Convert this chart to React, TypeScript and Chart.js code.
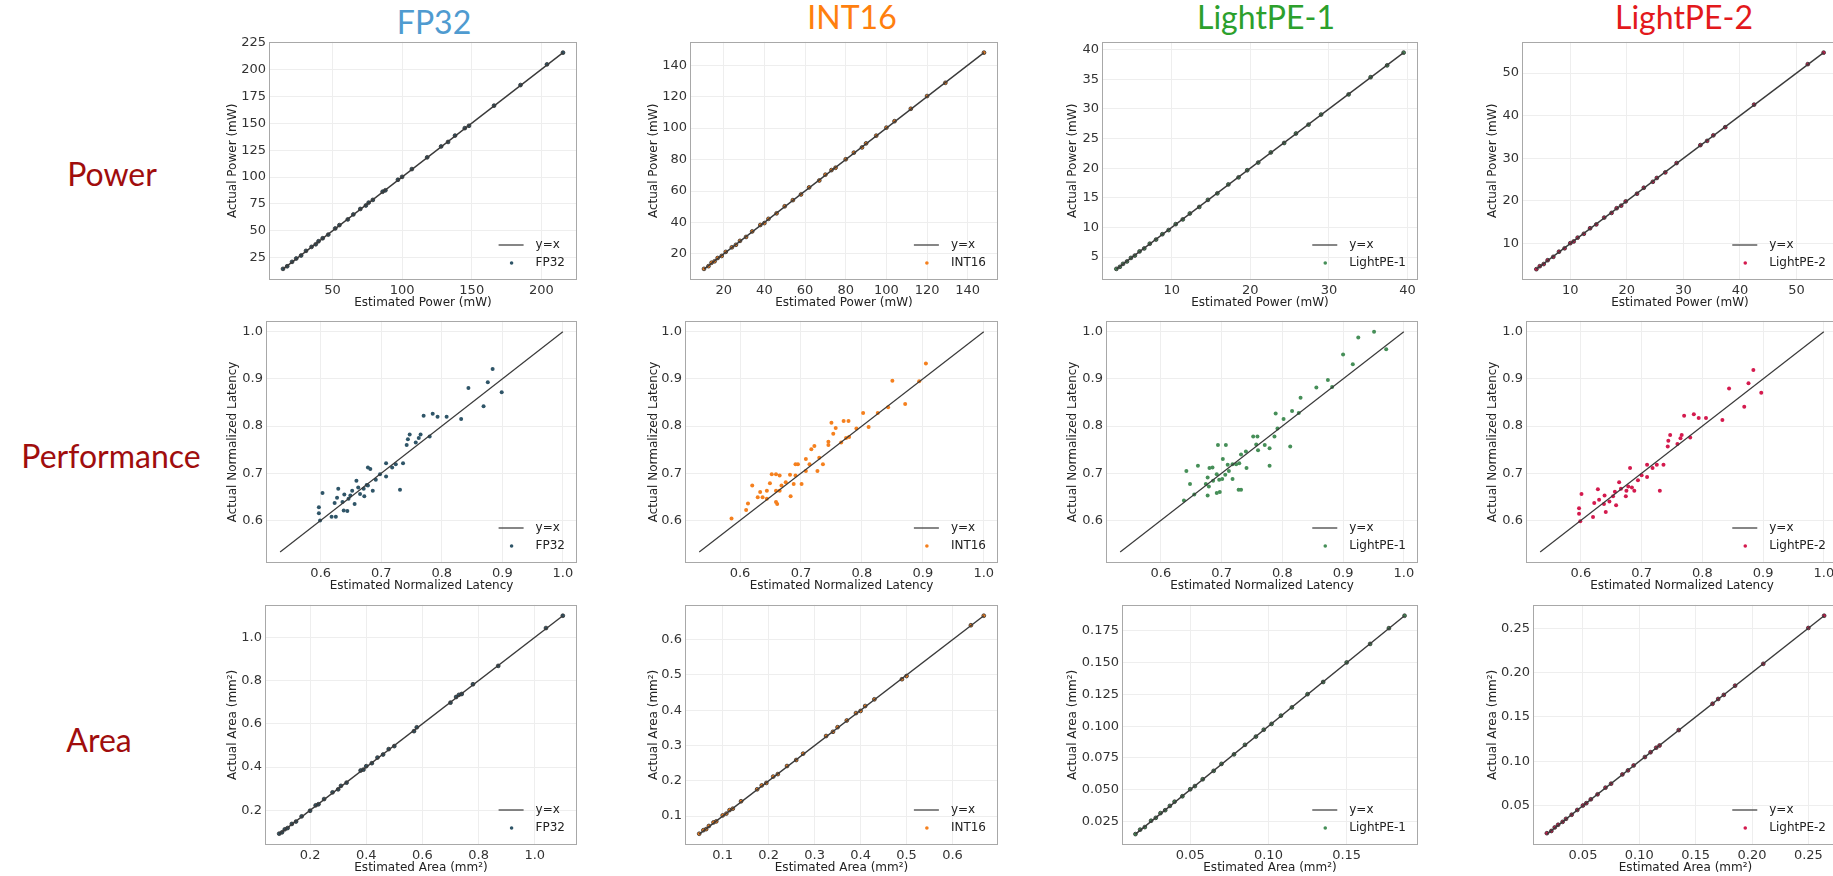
import React, { useEffect, useRef } from 'react';
import { Chart, registerables } from 'chart.js';
Chart.register(...registerables);

// ---------------- DATA ----------------
const columns = ['FP32', 'INT16', 'LightPE-1', 'LightPE-2'];
const rows = ['Power', 'Performance', 'Area'];

const xTitles = ['Estimated Power (mW)', 'Estimated Normalized Latency', 'Estimated Area (mm\u00B2)'];
const yTitles = ['Actual Power (mW)', 'Actual Normalized Latency', 'Actual Area (mm\u00B2)'];

// Power row
const fp32PowerEst = [14.5, 17.5, 21, 24, 27.5, 31, 35, 38, 40, 43, 47, 52, 55, 61, 65, 70, 74, 76, 79, 86, 88, 97, 100, 107, 118, 128, 133, 138, 145, 148, 166, 185, 204, 215.5];
const fp32PowerAct = [14.8, 17.2, 21.3, 24.4, 27.2, 31.5, 35.2, 37.6, 40.4, 43.2, 46.6, 52.3, 55.4, 60.7, 65.3, 70.4, 73.6, 76.3, 78.8, 86.4, 87.7, 97.5, 100.2, 107.4, 118.3, 128.4, 132.6, 138.5, 145.4, 147.6, 166.3, 185.4, 204.6, 215.5];
const fp32PowerLine = [14.5, 215.5];

const int16PowerEst = [10.3, 12.5, 14, 15.5, 17, 19, 21, 24, 26, 28, 31, 34, 38, 40, 42, 46, 50, 54, 58, 62, 67, 70, 73, 75, 80, 84, 88, 90, 95, 100, 104, 112, 120, 129, 148];
const int16PowerAct = [10.5, 12.2, 14.4, 15.3, 17.4, 18.7, 21.3, 24.2, 25.8, 28.3, 30.8, 34.3, 38.4, 39.6, 42.3, 45.8, 50.3, 54.2, 57.8, 62.3, 66.7, 70.4, 73.3, 74.8, 80.2, 84.4, 87.7, 90.3, 95.2, 100.3, 104.4, 112.3, 120.4, 128.8, 148];
const int16PowerLine = [10.3, 148];

const lpe1PowerEst = [2.95, 3.4, 3.8, 4.3, 4.8, 5.3, 5.9, 6.5, 7.2, 8.0, 8.8, 9.6, 10.5, 11.4, 12.3, 13.5, 14.6, 15.8, 17.2, 18.5, 19.6, 21.0, 22.6, 24.3, 25.8, 27.4, 29.0, 32.5, 35.3, 37.4, 39.5];
const lpe1PowerAct = [3.0, 3.35, 3.85, 4.25, 4.85, 5.25, 5.95, 6.45, 7.25, 7.95, 8.85, 9.55, 10.55, 11.35, 12.35, 13.45, 14.65, 15.75, 17.25, 18.45, 19.65, 20.95, 22.65, 24.25, 25.85, 27.35, 29.05, 32.45, 35.35, 37.35, 39.5];
const lpe1PowerLine = [2.95, 39.5];

const lpe2PowerEst = [4.0, 4.6, 5.3, 6.0, 7.0, 8.0, 9.0, 10.0, 10.6, 11.3, 12.4, 13.5, 14.6, 16.0, 17.3, 18.2, 19.0, 19.8, 21.8, 23.0, 24.6, 25.3, 26.8, 28.8, 33.0, 34.2, 35.3, 37.4, 42.5, 52.0, 54.8];
const lpe2PowerAct = [4.0, 4.7, 5.2, 6.1, 6.9, 8.1, 8.9, 10.1, 10.5, 11.4, 12.3, 13.6, 14.5, 16.1, 17.2, 18.3, 18.9, 19.9, 21.7, 23.1, 24.5, 25.4, 26.7, 28.9, 33.1, 34.1, 35.4, 37.3, 42.6, 52.1, 54.8];
const lpe2PowerLine = [4.0, 54.8];

// Performance row
const fp32PerfEst = [0.884, 0.876, 0.899, 0.844, 0.869, 0.832, 0.808, 0.793, 0.785, 0.770, 0.780, 0.765, 0.762, 0.747, 0.744, 0.742, 0.757, 0.736, 0.724, 0.708, 0.718, 0.731, 0.708, 0.698, 0.691, 0.682, 0.678, 0.676, 0.671, 0.678, 0.686, 0.672, 0.659, 0.662, 0.652, 0.649, 0.646, 0.639, 0.636, 0.629, 0.623, 0.627, 0.638, 0.644, 0.618, 0.625, 0.603, 0.597, 0.597, 0.599, 0.656, 0.665];
const fp32PerfAct = [0.921, 0.893, 0.872, 0.881, 0.842, 0.815, 0.820, 0.820, 0.826, 0.822, 0.778, 0.782, 0.775, 0.782, 0.772, 0.760, 0.765, 0.721, 0.719, 0.721, 0.712, 0.665, 0.693, 0.698, 0.686, 0.709, 0.712, 0.675, 0.667, 0.674, 0.663, 0.651, 0.684, 0.670, 0.663, 0.653, 0.646, 0.655, 0.639, 0.667, 0.637, 0.648, 0.621, 0.620, 0.608, 0.608, 0.658, 0.628, 0.615, 0.600, 0.635, 0.656];

const int16PerfEst = [0.905, 0.850, 0.894, 0.871, 0.843, 0.826, 0.802, 0.811, 0.791, 0.778, 0.770, 0.750, 0.757, 0.753, 0.779, 0.774, 0.766, 0.745, 0.745, 0.722, 0.717, 0.730, 0.736, 0.714, 0.708, 0.695, 0.691, 0.727, 0.708, 0.701, 0.691, 0.682, 0.675, 0.668, 0.659, 0.652, 0.665, 0.649, 0.644, 0.659, 0.665, 0.683, 0.688, 0.633, 0.629, 0.637, 0.620, 0.613, 0.610, 0.644, 0.659, 0.661, 0.586];
const int16PerfAct = [0.933, 0.896, 0.895, 0.847, 0.840, 0.828, 0.828, 0.798, 0.795, 0.811, 0.811, 0.807, 0.796, 0.784, 0.777, 0.775, 0.765, 0.767, 0.760, 0.758, 0.751, 0.733, 0.719, 0.719, 0.730, 0.719, 0.719, 0.705, 0.705, 0.677, 0.695, 0.697, 0.681, 0.674, 0.698, 0.698, 0.695, 0.679, 0.663, 0.663, 0.663, 0.651, 0.677, 0.660, 0.649, 0.649, 0.674, 0.636, 0.622, 0.646, 0.639, 0.635, 0.604];

const lpe1PerfEst = [0.951, 0.925, 0.971, 0.900, 0.916, 0.875, 0.856, 0.882, 0.830, 0.816, 0.827, 0.789, 0.802, 0.792, 0.787, 0.813, 0.779, 0.771, 0.757, 0.752, 0.759, 0.760, 0.740, 0.732, 0.779, 0.729, 0.724, 0.718, 0.710, 0.741, 0.702, 0.707, 0.694, 0.712, 0.706, 0.701, 0.692, 0.685, 0.680, 0.677, 0.674, 0.679, 0.661, 0.642, 0.648, 0.655, 0.677, 0.692, 0.697, 0.728, 0.732, 0.638, 0.718, 0.696, 0.686];
const lpe1PerfAct = [1.000, 0.988, 0.963, 0.952, 0.931, 0.898, 0.882, 0.883, 0.860, 0.832, 0.828, 0.827, 0.815, 0.795, 0.778, 0.757, 0.753, 0.760, 0.761, 0.778, 0.778, 0.749, 0.746, 0.740, 0.716, 0.721, 0.719, 0.719, 0.718, 0.711, 0.730, 0.760, 0.760, 0.705, 0.697, 0.688, 0.698, 0.712, 0.711, 0.691, 0.677, 0.672, 0.716, 0.705, 0.677, 0.655, 0.653, 0.658, 0.660, 0.665, 0.665, 0.642, 0.688, 0.686, 0.684];

const lpe2PerfEst = [0.884, 0.876, 0.897, 0.844, 0.869, 0.833, 0.806, 0.794, 0.786, 0.770, 0.780, 0.766, 0.764, 0.747, 0.744, 0.743, 0.759, 0.736, 0.725, 0.709, 0.718, 0.730, 0.709, 0.700, 0.694, 0.681, 0.678, 0.675, 0.684, 0.688, 0.674, 0.663, 0.666, 0.656, 0.653, 0.647, 0.639, 0.638, 0.628, 0.622, 0.630, 0.641, 0.620, 0.601, 0.597, 0.597, 0.599, 0.658];
const lpe2PerfAct = [0.919, 0.891, 0.871, 0.880, 0.841, 0.813, 0.817, 0.817, 0.825, 0.822, 0.776, 0.781, 0.774, 0.781, 0.769, 0.757, 0.762, 0.718, 0.718, 0.718, 0.711, 0.663, 0.692, 0.696, 0.685, 0.711, 0.672, 0.663, 0.670, 0.663, 0.651, 0.681, 0.667, 0.661, 0.651, 0.640, 0.653, 0.635, 0.666, 0.637, 0.644, 0.618, 0.607, 0.656, 0.626, 0.614, 0.598, 0.632];

const perfLine = [0.533, 1.0];

// Area row
const fp32AreaEst = [0.09, 0.10, 0.11, 0.12, 0.135, 0.15, 0.17, 0.20, 0.22, 0.23, 0.25, 0.28, 0.30, 0.31, 0.33, 0.38, 0.39, 0.40, 0.42, 0.44, 0.46, 0.48, 0.50, 0.57, 0.58, 0.70, 0.72, 0.73, 0.74, 0.78, 0.87, 1.04, 1.10];
const fp32AreaAct = [0.092, 0.098, 0.112, 0.118, 0.137, 0.148, 0.172, 0.198, 0.223, 0.228, 0.252, 0.283, 0.297, 0.313, 0.328, 0.384, 0.388, 0.404, 0.418, 0.444, 0.458, 0.483, 0.497, 0.566, 0.584, 0.698, 0.724, 0.734, 0.738, 0.783, 0.868, 1.043, 1.10];
const fp32AreaLine = [0.09, 1.10];

const int16AreaEst = [0.049, 0.058, 0.064, 0.07, 0.08, 0.086, 0.10, 0.108, 0.115, 0.122, 0.14, 0.175, 0.185, 0.195, 0.21, 0.22, 0.24, 0.26, 0.275, 0.325, 0.34, 0.35, 0.37, 0.39, 0.40, 0.41, 0.43, 0.49, 0.50, 0.64, 0.668];
const int16AreaAct = [0.05, 0.06, 0.063, 0.072, 0.082, 0.085, 0.102, 0.107, 0.117, 0.121, 0.142, 0.176, 0.187, 0.194, 0.212, 0.219, 0.242, 0.259, 0.277, 0.327, 0.339, 0.352, 0.371, 0.392, 0.398, 0.412, 0.431, 0.488, 0.497, 0.641, 0.668];
const int16AreaLine = [0.049, 0.668];

const lpe1AreaEst = [0.015, 0.018, 0.021, 0.025, 0.028, 0.031, 0.034, 0.037, 0.040, 0.045, 0.050, 0.053, 0.058, 0.065, 0.070, 0.078, 0.085, 0.092, 0.097, 0.102, 0.108, 0.115, 0.125, 0.135, 0.150, 0.165, 0.177, 0.187];
const lpe1AreaAct = [0.015, 0.0185, 0.0205, 0.0255, 0.0278, 0.0315, 0.0338, 0.0372, 0.0405, 0.0448, 0.0503, 0.0528, 0.0582, 0.0648, 0.0703, 0.0778, 0.0853, 0.0918, 0.0972, 0.1018, 0.1083, 0.1148, 0.1252, 0.1348, 0.1502, 0.1648, 0.1772, 0.187];
const lpe1AreaLine = [0.015, 0.187];

const lpe2AreaEst = [0.018, 0.022, 0.025, 0.028, 0.032, 0.035, 0.040, 0.045, 0.050, 0.053, 0.057, 0.063, 0.070, 0.075, 0.085, 0.090, 0.095, 0.105, 0.110, 0.115, 0.118, 0.135, 0.165, 0.170, 0.175, 0.185, 0.210, 0.250, 0.264];
const lpe2AreaAct = [0.019, 0.0215, 0.0255, 0.0285, 0.0318, 0.0352, 0.0398, 0.0452, 0.0502, 0.0528, 0.0572, 0.0628, 0.0703, 0.0748, 0.0852, 0.0898, 0.0953, 0.1048, 0.1102, 0.1153, 0.1178, 0.1352, 0.1648, 0.1702, 0.1748, 0.1852, 0.2098, 0.2502, 0.264];
const lpe2AreaLine = [0.018, 0.264];

// Tick values
const fp32PowerXTicks = [50, 100, 150, 200];
const fp32PowerYTicks = [25, 50, 75, 100, 125, 150, 175, 200, 225];
const int16PowerTicks = [20, 40, 60, 80, 100, 120, 140];
const lpe1PowerXTicks = [10, 20, 30, 40];
const lpe1PowerYTicks = [5, 10, 15, 20, 25, 30, 35, 40];
const lpe2PowerTicks = [10, 20, 30, 40, 50];
const perfTicks = [0.6, 0.7, 0.8, 0.9, 1.0];
const fp32AreaTicks = [0.2, 0.4, 0.6, 0.8, 1.0];
const int16AreaTicks = [0.1, 0.2, 0.3, 0.4, 0.5, 0.6];
const lpe1AreaXTicks = [0.05, 0.10, 0.15];
const lpe1AreaYTicks = [0.025, 0.05, 0.075, 0.1, 0.125, 0.15, 0.175];
const lpe2AreaTicks = [0.05, 0.10, 0.15, 0.20, 0.25];

// ---------------- STYLE / LAYOUT ----------------
const pointColors = ['#2f5568', '#f5801e', '#468f58', '#d41a4e'];
const titleColors = ['#4f9bd0', '#ff7f0e', '#2ca02c', '#e3191c'];
const rowColor = '#a00d0d';

const colLeft = [226, 647, 1066, 1486];
const rowTop = [39, 318, 602];
const rowBottom = [280, 563, 845];
const boxLeft = [[269, 690, 1102, 1522], [266, 685, 1106, 1526], [265, 685, 1122, 1533]];
const boxRight = [577, 998, 1418, 1838];

const colTitlePos = [[434, 22], [852, 17], [1266, 17], [1684, 17]];
const rowLabelPos = [[112, 174], [111, 456], [99, 740]];

type PanelCfg = {
  est: number[]; act: number[]; line: number[];
  xTicks: number[]; yTicks: number[]; xDec: number; yDec: number;
};

const panels: PanelCfg[][] = [
  [
    { est: fp32PowerEst, act: fp32PowerAct, line: fp32PowerLine, xTicks: fp32PowerXTicks, yTicks: fp32PowerYTicks, xDec: 0, yDec: 0 },
    { est: int16PowerEst, act: int16PowerAct, line: int16PowerLine, xTicks: int16PowerTicks, yTicks: int16PowerTicks, xDec: 0, yDec: 0 },
    { est: lpe1PowerEst, act: lpe1PowerAct, line: lpe1PowerLine, xTicks: lpe1PowerXTicks, yTicks: lpe1PowerYTicks, xDec: 0, yDec: 0 },
    { est: lpe2PowerEst, act: lpe2PowerAct, line: lpe2PowerLine, xTicks: lpe2PowerTicks, yTicks: lpe2PowerTicks, xDec: 0, yDec: 0 },
  ],
  [
    { est: fp32PerfEst, act: fp32PerfAct, line: perfLine, xTicks: perfTicks, yTicks: perfTicks, xDec: 1, yDec: 1 },
    { est: int16PerfEst, act: int16PerfAct, line: perfLine, xTicks: perfTicks, yTicks: perfTicks, xDec: 1, yDec: 1 },
    { est: lpe1PerfEst, act: lpe1PerfAct, line: perfLine, xTicks: perfTicks, yTicks: perfTicks, xDec: 1, yDec: 1 },
    { est: lpe2PerfEst, act: lpe2PerfAct, line: perfLine, xTicks: perfTicks, yTicks: perfTicks, xDec: 1, yDec: 1 },
  ],
  [
    { est: fp32AreaEst, act: fp32AreaAct, line: fp32AreaLine, xTicks: fp32AreaTicks, yTicks: fp32AreaTicks, xDec: 1, yDec: 1 },
    { est: int16AreaEst, act: int16AreaAct, line: int16AreaLine, xTicks: int16AreaTicks, yTicks: int16AreaTicks, xDec: 1, yDec: 1 },
    { est: lpe1AreaEst, act: lpe1AreaAct, line: lpe1AreaLine, xTicks: lpe1AreaXTicks, yTicks: lpe1AreaYTicks, xDec: 2, yDec: 3 },
    { est: lpe2AreaEst, act: lpe2AreaAct, line: lpe2AreaLine, xTicks: lpe2AreaTicks, yTicks: lpe2AreaTicks, xDec: 2, yDec: 2 },
  ],
];

const FONT = "'DejaVu Sans', sans-serif";
const PAD_TOP = 8;
const PAD_RIGHT = 8;
const X_H = 30;

const frameLegendPlugin = {
  id: 'frameLegend',
  afterDraw(chart: any) {
    const { ctx, chartArea } = chart;
    const { left, right, top, bottom } = chartArea;
    ctx.save();
    ctx.strokeStyle = '#a8a8a8';
    ctx.lineWidth = 1;
    ctx.strokeRect(Math.round(left) + 0.5, Math.round(top) + 0.5, Math.round(right - left) - 1, Math.round(bottom - top) - 1);
    ctx.font = `12px ${FONT}`;
    const dsets = chart.data.datasets;
    const maxW = Math.max(...dsets.map((d: any) => ctx.measureText(d.label).width));
    const textX = right - 12 - maxW;
    dsets.forEach((d: any, i: number) => {
      const y = bottom - 35 + i * 18;
      if (d.showLine) {
        ctx.strokeStyle = '#444';
        ctx.lineWidth = 1.3;
        ctx.beginPath();
        ctx.moveTo(textX - 37, y);
        ctx.lineTo(textX - 12, y);
        ctx.stroke();
      } else {
        ctx.fillStyle = d.backgroundColor;
        ctx.beginPath();
        ctx.arc(textX - 24, y, 1.8, 0, Math.PI * 2);
        ctx.fill();
      }
      ctx.fillStyle = '#222';
      ctx.textBaseline = 'middle';
      ctx.textAlign = 'left';
      ctx.fillText(d.label, textX, y);
    });
    ctx.restore();
  },
};

function Panel({ row, col }: { row: number; col: number }) {
  const ref = useRef<HTMLCanvasElement | null>(null);
  const cfg = panels[row][col];
  const bl = boxLeft[row][col];
  const br = boxRight[col];
  const bt = rowTop[row];
  const bb = rowBottom[row];
  const left = colLeft[col];
  const yW = bl - left;
  const w = yW + (br - bl) + PAD_RIGHT;
  const h = PAD_TOP + (bb - bt) + X_H;
  const isPerf = row === 1;

  useEffect(() => {
    if (!ref.current) return;
    const span = cfg.line[1] - cfg.line[0];
    const min = cfg.line[0] - 0.05 * span;
    const max = cfg.line[1] + 0.05 * span;
    const pts = cfg.est.map((x, i) => ({ x, y: cfg.act[i] }));
    const mkScale = (isX: boolean) => ({
      type: 'linear',
      min,
      max,
      afterBuildTicks: (s: any) => {
        s.ticks = (isX ? cfg.xTicks : cfg.yTicks).map((v) => ({ value: v }));
      },
      afterFit: (s: any) => {
        if (isX) s.height = X_H;
        else s.width = yW;
      },
      ticks: {
        autoSkip: false,
        maxRotation: 0,
        padding: 3,
        color: '#333',
        font: { size: 13, family: FONT },
        callback: (v: any) => Number(v).toFixed(isX ? cfg.xDec : cfg.yDec),
      },
      grid: { color: '#eeeeee', lineWidth: 1, drawTicks: false },
      border: { display: false },
      title: {
        display: true,
        text: isX ? xTitles[row] : yTitles[row],
        color: '#222',
        padding: 0,
        font: { size: 12, family: FONT },
      },
    });
    const chart = new Chart(ref.current, {
      type: 'scatter',
      data: {
        datasets: [
          {
            label: 'y=x',
            data: [{ x: cfg.line[0], y: cfg.line[0] }, { x: cfg.line[1], y: cfg.line[1] }],
            showLine: true,
            borderColor: '#3a3a3a',
            borderWidth: isPerf ? 1.2 : 1.4,
            pointRadius: 0,
            backgroundColor: '#3a3a3a',
          } as any,
          {
            label: columns[col],
            data: pts,
            pointRadius: isPerf ? 2 : 1.9,
            pointBorderWidth: isPerf ? 0 : 0.8,
            backgroundColor: pointColors[col],
            borderColor: isPerf ? pointColors[col] : '#2e2e2e',
          } as any,
        ],
      },
      options: {
        animation: false,
        responsive: false,
        devicePixelRatio: 1,
        layout: { padding: { top: PAD_TOP, right: PAD_RIGHT, left: 0, bottom: 0 }, autoPadding: false },
        plugins: { legend: { display: false }, tooltip: { enabled: false }, title: { display: false } },
        scales: { x: mkScale(true) as any, y: mkScale(false) as any },
      },
      plugins: [frameLegendPlugin],
    });
    return () => chart.destroy();
  }, []);

  return (
    <canvas
      ref={ref}
      width={w}
      height={h}
      style={{ position: 'absolute', left, top: bt - PAD_TOP, width: w, height: h }}
    />
  );
}

export default function App() {
  return (
    <div
      style={{
        position: 'absolute',
        left: 0,
        top: 0,
        width: 1833,
        height: 876,
        overflow: 'hidden',
        background: '#ffffff',
      }}
    >
      {columns.map((c, i) => (
        <div
          key={c}
          style={{
            position: 'absolute',
            left: colTitlePos[i][0],
            top: colTitlePos[i][1],
            transform: 'translate(-50%, -50%)',
            fontFamily: 'Lato, sans-serif',
            fontSize: 32,
            lineHeight: 1,
            color: titleColors[i],
            whiteSpace: 'nowrap',
          }}
        >
          {c}
        </div>
      ))}
      {rows.map((r, i) => (
        <div
          key={r}
          style={{
            position: 'absolute',
            left: rowLabelPos[i][0],
            top: rowLabelPos[i][1],
            transform: 'translate(-50%, -50%)',
            fontFamily: 'Lato, sans-serif',
            fontSize: 32,
            lineHeight: 1,
            color: rowColor,
            whiteSpace: 'nowrap',
          }}
        >
          {r}
        </div>
      ))}
      {rows.map((_, r) => columns.map((_, c) => <Panel key={`${r}-${c}`} row={r} col={c} />))}
    </div>
  );
}
